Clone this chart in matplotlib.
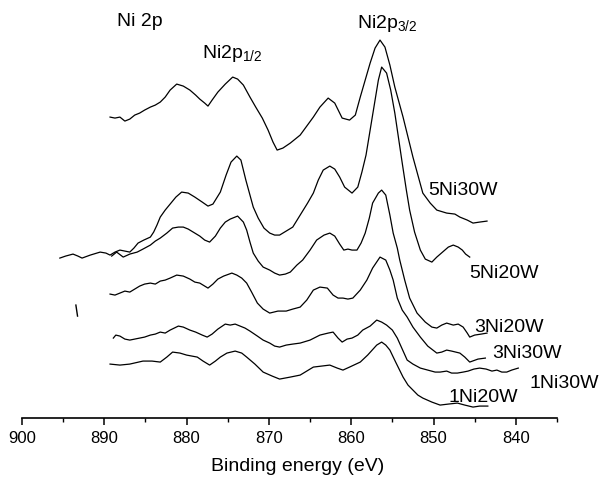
import numpy as np
import matplotlib
matplotlib.use("Agg")
import matplotlib.pyplot as plt
from matplotlib.ticker import MultipleLocator

plt.rcParams['font.family'] = ['Liberation Sans', 'DejaVu Sans']
plt.rcParams['mathtext.default'] = 'regular'

# binding energy (eV) and intensity (arb. units, already offset for stacking)
be_5ni30w = [889.3, 888.7, 888.1, 887.5, 886.9, 886.3, 885.7, 885.1, 884.4, 883.8, 883.2, 882.6,
             882.0, 881.2, 880.4, 879.6, 878.9, 878.4, 877.8, 877.4, 876.9, 876.2, 875.3, 874.4,
             873.8, 873.1, 872.3, 871.6, 870.8, 870.1, 869.5, 869.0, 868.3, 867.4, 866.2, 864.6,
             863.8, 862.8, 862.0, 861.1, 860.2, 859.5, 858.9, 858.3, 857.7, 857.1, 856.5, 855.9,
             855.3, 854.7, 853.7, 852.5, 851.3, 850.4, 849.6, 848.4, 847.4, 846.8, 845.9, 845.2,
             844.4, 843.5]
int_5ni30w = [301, 300, 301, 297, 299, 303, 305, 308, 311, 313, 316, 321,
              328, 334, 332, 328, 323, 319, 315, 312, 318, 326, 334, 341,
              339, 333, 321, 311, 300, 288, 276, 268, 270, 275, 283, 301,
              311, 320, 315, 300, 298, 303, 321, 338, 355, 370, 378, 371,
              353, 331, 301, 261, 225, 215, 208, 205, 204, 201, 198, 195,
              196, 197]

be_5ni20w = [895.4, 894.7, 893.8, 893.2, 892.7, 891.7, 890.5, 889.8, 889.3, 888.7, 888.1, 887.5,
             886.9, 886.4, 885.9, 885.2, 884.4, 884.0, 883.6, 883.2, 882.6, 882.0, 881.3, 880.6,
             879.8, 879.0, 878.1, 877.4, 876.8, 875.9, 875.2, 874.6, 873.9, 873.4, 872.8, 872.3,
             871.9, 871.3, 870.6, 869.9, 869.3, 868.7, 867.9, 867.1, 866.2, 865.3, 864.6, 864.0,
             863.4, 862.6, 862.0, 861.4, 860.8, 859.9, 859.2, 858.7, 858.2, 857.7, 857.2, 856.7,
             856.3, 855.7, 855.2, 854.7, 853.8, 853.3, 852.9, 852.3, 851.6, 851.0, 850.2, 849.6,
             848.9, 848.2, 847.6, 847.0, 846.5, 846.1, 845.6]
int_5ni20w = [160, 162, 164, 162, 160, 163, 166, 165, 163, 166, 168, 167,
              166, 170, 175, 178, 181, 186, 193, 201, 208, 214, 221, 226,
              225, 221, 216, 212, 214, 226, 243, 256, 262, 258, 238, 223,
              211, 200, 190, 185, 183, 183, 187, 191, 203, 215, 225, 238,
              248, 252, 249, 241, 231, 225, 231, 246, 263, 288, 313, 338,
              351, 345, 328, 305, 255, 228, 208, 186, 168, 159, 156, 161,
              166, 171, 173, 171, 168, 164, 161]

be_3ni20w = [889.1, 888.5, 887.7, 886.9, 886.0, 885.3, 884.4, 883.8, 883.2, 882.4, 881.7, 881.0,
             880.4, 879.8, 879.2, 878.4, 877.8, 877.2, 876.5, 875.9, 875.3, 874.7, 874.1, 873.8,
             873.1, 872.7, 872.3, 871.9, 871.3, 870.7, 869.9, 869.3, 868.7, 868.0, 867.4, 866.6,
             865.9, 865.0, 864.2, 863.3, 862.6, 862.0, 861.4, 860.9, 860.4, 859.9, 859.3, 858.8,
             858.3, 857.8, 857.4, 856.7, 856.3, 855.8, 855.3, 854.9, 854.4, 854.1, 853.5, 852.9,
             852.0, 851.0, 850.2, 849.6, 849.0, 848.4, 847.6, 847.0, 846.4, 845.9, 845.6, 845.0,
             844.2, 843.5]
int_3ni20w = [162, 166, 161, 164, 166, 169, 173, 177, 180, 185, 190, 191,
              191, 189, 186, 182, 178, 176, 182, 190, 196, 199, 201, 202,
              196, 188, 176, 165, 157, 151, 148, 145, 143, 144, 146, 153,
              158, 168, 178, 183, 185, 182, 174, 168, 169, 168, 168, 175,
              185, 200, 215, 225, 228, 223, 203, 185, 170, 158, 138, 120,
              105, 96, 91, 90, 93, 95, 93, 94, 91, 85, 81, 83,
              84, 85]

be_3ni30w = [889.3, 888.7, 888.1, 887.5, 886.9, 886.3, 885.7, 885.1, 884.4, 883.8, 883.2, 882.6,
             882.0, 881.2, 880.4, 879.6, 879.0, 878.4, 877.8, 877.4, 876.8, 876.2, 875.5, 874.5,
             873.9, 873.3, 872.7, 872.1, 871.4, 870.7, 869.9, 868.9, 867.9, 867.1, 866.2, 865.4,
             864.6, 863.8, 862.9, 862.2, 861.6, 861.0, 860.4, 859.8, 858.9, 858.1, 857.4, 856.5,
             855.8, 855.3, 854.9, 854.4, 853.8, 853.2, 852.5, 851.6, 850.7, 849.6, 849.0, 848.4,
             847.8, 846.8, 846.2, 845.6, 844.6, 843.7]
int_3ni30w = [124, 123, 125, 127, 126, 129, 132, 134, 135, 134, 137, 138,
              140, 143, 142, 139, 136, 135, 132, 130, 134, 139, 142, 145,
              143, 140, 135, 126, 115, 109, 105, 107, 107, 109, 111, 118,
              128, 131, 130, 123, 120, 120, 119, 120, 128, 138, 150, 161,
              158, 148, 138, 120, 108, 101, 91, 81, 72, 65, 66, 68,
              67, 65, 61, 56, 59, 60]

be_1ni30w = [888.9, 888.6, 888.1, 887.5, 886.9, 886.3, 885.7, 885.1, 884.4, 883.8, 883.2, 882.6,
             882.0, 881.0, 880.4, 879.6, 878.9, 878.1, 877.5, 876.9, 876.2, 875.3, 874.7, 874.1,
             873.5, 872.9, 872.3, 871.4, 870.7, 869.9, 869.3, 868.7, 867.9, 867.1, 866.2, 865.0,
             863.8, 862.8, 862.2, 861.6, 861.1, 860.5, 859.9, 859.2, 858.6, 857.7, 856.9, 856.3,
             855.7, 855.0, 854.4, 853.8, 853.2, 852.5, 851.6, 850.7, 849.8, 849.2, 848.4, 847.8,
             847.1, 846.4, 845.8, 845.1, 844.4, 843.6, 842.9, 842.3, 841.7, 841.1, 840.5, 839.7]
int_1ni30w = [80, 83, 82, 79, 78, 79, 80, 81, 83, 84, 86, 85,
              88, 92, 91, 88, 86, 83, 81, 84, 89, 94, 93, 94,
              92, 90, 87, 82, 78, 75, 72, 71, 73, 74, 75, 78,
              83, 85, 86, 80, 76, 79, 80, 83, 88, 92, 98, 96,
              93, 88, 80, 69, 58, 54, 50, 48, 46, 46, 47, 45,
              45, 46, 47, 49, 50, 49, 47, 48, 46, 46, 48, 50]

be_1ni20w = [889.3, 888.1, 886.9, 885.3, 884.2, 883.2, 882.4, 881.7, 880.8, 880.0, 878.7, 878.0,
             877.2, 876.5, 875.9, 875.1, 874.1, 873.3, 872.7, 871.7, 870.7, 869.6, 868.7, 867.4,
             866.2, 864.6, 863.6, 862.6, 861.7, 861.0, 860.2, 858.9, 858.0, 856.9, 856.3, 855.8,
             855.3, 854.6, 853.7, 853.1, 852.5, 851.9, 851.3, 850.2, 849.2, 848.2, 847.1, 846.2,
             845.2, 844.4, 843.4]
int_1ni20w = [54, 53, 54, 57, 57, 56, 61, 66, 65, 63, 61, 57,
              53, 57, 61, 65, 67, 65, 61, 54, 46, 42, 39, 41,
              43, 51, 52, 53, 50, 48, 51, 56, 63, 73, 76, 73,
              68, 56, 41, 33, 28, 23, 20, 16, 13, 14, 15, 13,
              11, 12, 12]

# small stray stroke in the original scan
stray_be = [893.45, 893.25]
stray_int = [113, 102]

spectra = [
    ("5Ni30W", be_5ni30w, int_5ni30w),
    ("5Ni20W", be_5ni20w, int_5ni20w),
    ("3Ni20W", be_3ni20w, int_3ni20w),
    ("3Ni30W", be_3ni30w, int_3ni30w),
    ("1Ni30W", be_1ni30w, int_1ni30w),
    ("1Ni20W", be_1ni20w, int_1ni20w),
]

fs = 14

fig = plt.figure(figsize=(6.02, 4.80), dpi=100)
ax = fig.add_axes([0.0365, 0.129, 0.8887, 0.85])

for name, be, inten in spectra:
    ax.plot(be, inten, color="black", linewidth=0.9)
ax.plot(stray_be, stray_int, color="black", linewidth=1.0)

ax.set_xlim(900, 835)
ax.set_ylim(0, 408)

for s in ["left", "top", "right"]:
    ax.spines[s].set_visible(False)
ax.spines["bottom"].set_linewidth(1.2)
ax.set_yticks([])
ax.xaxis.set_major_locator(MultipleLocator(10))
ax.xaxis.set_minor_locator(MultipleLocator(5))
ax.tick_params(axis="x", which="major", direction="out", length=5, width=1.1,
               labelsize=12, pad=4)
ax.tick_params(axis="x", which="minor", direction="out", length=3, width=1.0)
ax.set_xlabel("Binding energy (eV)", fontsize=fs)
ax.xaxis.set_label_coords(0.515, -0.098)

# sample labels
ax.text(850.7, 223, "5Ni30W", fontsize=fs, va="baseline")
ax.text(845.6, 140, "5Ni20W", fontsize=fs, va="baseline")
ax.text(845.0, 86, "3Ni20W", fontsize=fs, va="baseline")
ax.text(842.9, 60, "3Ni30W", fontsize=fs, va="baseline")
ax.text(838.3, 30, "1Ni30W", fontsize=fs, va="baseline", clip_on=False)
ax.text(848.2, 16, "1Ni20W", fontsize=fs, va="baseline")

# peak labels
ax.text(888.5, 392, "Ni 2p", fontsize=fs, va="baseline")
ax.text(878.1, 360, "Ni2p$_{1/2}$", fontsize=fs, va="baseline")
ax.text(859.3, 390, "Ni2p$_{3/2}$", fontsize=fs, va="baseline")

plt.savefig("out.png", dpi=100)
